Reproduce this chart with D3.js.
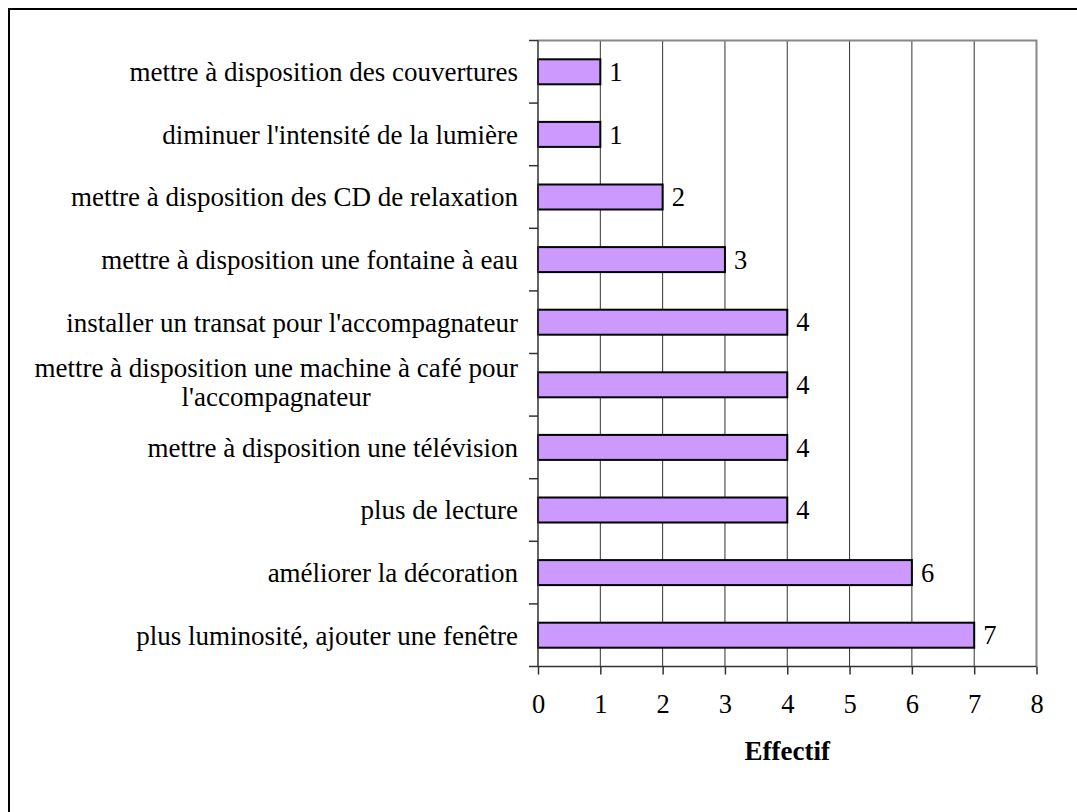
<!DOCTYPE html>
<html>
<head>
<meta charset="utf-8">
<script src="https://cdn.jsdelivr.net/npm/d3@7"></script>
<style>
  body { margin: 0; background: #fff; }
  svg text { font-family: "Times New Roman", "Liberation Serif", "DejaVu Serif", serif; }
</style>
</head>
<body>
<script>
// categories, top to bottom
const categories = [
  "mettre à disposition des couvertures",
  "diminuer l'intensité de la lumière",
  "mettre à disposition des CD de relaxation",
  "mettre à disposition une fontaine à eau",
  "installer un transat pour l'accompagnateur",
  "mettre à disposition une machine à café pour l'accompagnateur",
  "mettre à disposition une télévision",
  "plus de lecture",
  "améliorer la décoration",
  "plus luminosité, ajouter une fenêtre"
];
const values = [1, 1, 2, 3, 4, 4, 4, 4, 6, 7];
// wrapped label lines
const labelLines = {
  "mettre à disposition une machine à café pour l'accompagnateur":
    ["mettre à disposition une machine à café pour", "l'accompagnateur"]
};
const xTicks = [0, 1, 2, 3, 4, 5, 6, 7, 8];
const axisTitle = "Effectif";

const width = 1077, height = 812;
const plot = { left: 538, right: 1036.5, top: 40.5, bottom: 666.5 };
const fs = 26.5;

const svg = d3.select("body").append("svg")
  .attr("width", width).attr("height", height);

// outer frame (only top and left edges visible)
svg.append("rect")
  .attr("x", 9).attr("y", 9)
  .attr("width", width + 20).attr("height", height + 20)
  .attr("fill", "#fff").attr("stroke", "#000").attr("stroke-width", 2);

const x = d3.scaleLinear().domain([0, 8]).range([plot.left, plot.right]);
const yb = d3.scaleBand().domain(categories).range([plot.top, plot.bottom]);

// gridlines
svg.append("g").selectAll("line")
  .data(xTicks.slice(1, -1))
  .join("line")
  .attr("x1", d => x(d)).attr("x2", d => x(d))
  .attr("y1", plot.top).attr("y2", plot.bottom)
  .attr("stroke", "#333").attr("stroke-width", 1);

// plot area border top/right
svg.append("path")
  .attr("d", `M${plot.left},${plot.top}H${plot.right}V${plot.bottom}`)
  .attr("fill", "none").attr("stroke", "#888").attr("stroke-width", 2);

// bars
svg.append("g").selectAll("rect")
  .data(categories)
  .join("rect")
  .attr("x", x(0))
  .attr("y", d => yb(d) + yb.bandwidth() / 2 - 12.5)
  .attr("width", (d, i) => x(values[i]) - x(0))
  .attr("height", 25)
  .attr("fill", "#cc99ff")
  .attr("stroke", "#000").attr("stroke-width", 2);

// value labels
svg.append("g").selectAll("text")
  .data(categories)
  .join("text")
  .attr("x", (d, i) => x(values[i]) + 9)
  .attr("y", d => yb(d) + yb.bandwidth() / 2)
  .attr("dy", "0.35em")
  .attr("font-size", fs)
  .text((d, i) => values[i]);

// x axis
const xAxis = svg.append("g")
  .attr("transform", `translate(0,${plot.bottom})`)
  .call(d3.axisBottom(x).tickValues(xTicks).tickSize(8).tickPadding(20).tickFormat(d3.format("d")));
xAxis.attr("font-family", null);
xAxis.select(".domain").attr("d", `M${plot.left - 9},0H${plot.right}`).attr("stroke", "#333").attr("stroke-width", 1.5);
xAxis.selectAll(".tick line").attr("stroke", "#333").attr("stroke-width", 1.5);
xAxis.selectAll(".tick text").attr("font-size", fs).attr("fill", "#000");

// y axis (ticks on band boundaries)
const yAxis = svg.append("g").attr("transform", `translate(${plot.left},0)`);
yAxis.append("line")
  .attr("x1", 0).attr("x2", 0).attr("y1", plot.top).attr("y2", plot.bottom)
  .attr("stroke", "#333").attr("stroke-width", 1.5);
yAxis.selectAll("line.tk")
  .data(categories)
  .join("line").attr("class", "tk")
  .attr("x1", -9).attr("x2", 0)
  .attr("y1", d => yb(d)).attr("y2", d => yb(d))
  .attr("stroke", "#333").attr("stroke-width", 1.5);

// category labels
const labels = svg.append("g");
categories.forEach(c => {
  const lines = labelLines[c] || [c];
  const cy = yb(c) + yb.bandwidth() / 2;
  const lh = 29;
  const t = labels.append("text")
    .attr("font-size", 27)
    .attr("fill", "#000");
  if (lines.length === 1) {
    t.attr("x", 518).attr("y", cy).attr("dy", "0.35em").attr("text-anchor", "end").text(c);
  } else {
    lines.forEach((ln, k) => {
      t.append("tspan")
        .attr("x", 0)
        .attr("y", cy + (k - (lines.length - 1) / 2) * lh - 3)
        .attr("dy", "0.35em")
        .attr("text-anchor", "middle")
        .text(ln);
    });
    // center block whose right edge sits at 518
    const w = t.node().getBBox().width;
    t.selectAll("tspan").attr("x", 518 - w / 2);
  }
});

// axis title
svg.append("text")
  .attr("x", (plot.left + plot.right) / 2)
  .attr("y", 760)
  .attr("text-anchor", "middle")
  .attr("font-size", 27)
  .attr("font-weight", "bold")
  .text(axisTitle);
</script>
</body>
</html>
